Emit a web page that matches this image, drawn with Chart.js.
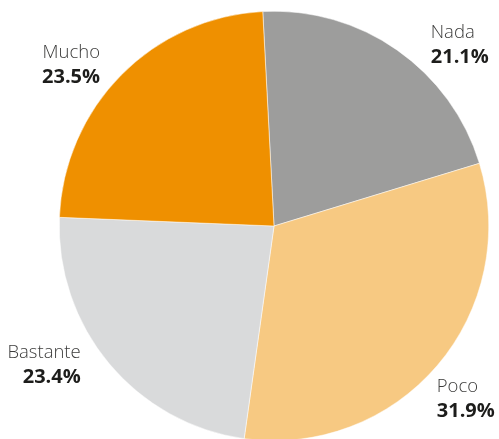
<!DOCTYPE html>
<html>
<head>
<meta charset="utf-8">
<script src="https://cdn.jsdelivr.net/npm/chart.js@4"></script>
<style>
  html, body { margin: 0; padding: 0; background: #fff; overflow: hidden; }
  #wrap { width: 499px; height: 452px; }
</style>
</head>
<body>
<div id="wrap"><canvas id="pieChart" width="499" height="452"></canvas></div>
<script>
var categories = ["Nada", "Poco", "Bastante", "Mucho"];
var values = [21.1, 31.9, 23.4, 23.5];
var valueLabels = ["21.1%", "31.9%", "23.4%", "23.5%"];
var colors = ["#9d9d9c", "#f7c982", "#d9dadb", "#ef9000"];

// label anchor, relative to the pie centre in units of the radius
var labelX = [0.73, 0.758, -0.9, -0.81];
var labelY = [-0.875, 0.772, 0.614, -0.78];
var labelAlign = ["left", "left", "right", "right"];

var pieLabels = {
    id: "pieLabels",
    afterDraw: function (chart) {
        var ctx = chart.ctx;
        var arc = chart.getDatasetMeta(0).data[0];
        var cx = arc.x, cy = arc.y, r = arc.outerRadius;
        ctx.save();
        for (var i = 0; i < categories.length; i++) {
            var x = cx + labelX[i] * r;
            var y = cy + labelY[i] * r;
            ctx.textAlign = labelAlign[i];
            ctx.textBaseline = "alphabetic";
            ctx.fillStyle = "#3c3c3b";
            ctx.font = "300 18.5px 'Open Sans'";
            ctx.fillText(categories[i], x, y);
            ctx.fillStyle = "#1d1d1b";
            ctx.font = "bold 20px 'Open Sans'";
            ctx.fillText(valueLabels[i], x, y + 25);
        }
        ctx.restore();
    }
};

new Chart(document.getElementById("pieChart").getContext("2d"), {
    type: "pie",
    data: {
        labels: categories,
        datasets: [{
            data: values,
            backgroundColor: colors,
            borderColor: "#ffffff",
            borderWidth: 0.5
        }]
    },
    options: {
        responsive: false,
        animation: false,
        rotation: -3,
        layout: { padding: { left: 59, right: 10, top: 11, bottom: 11 } },
        plugins: {
            legend: { display: false },
            tooltip: { enabled: false }
        }
    },
    plugins: [pieLabels]
});
</script>
</body>
</html>
